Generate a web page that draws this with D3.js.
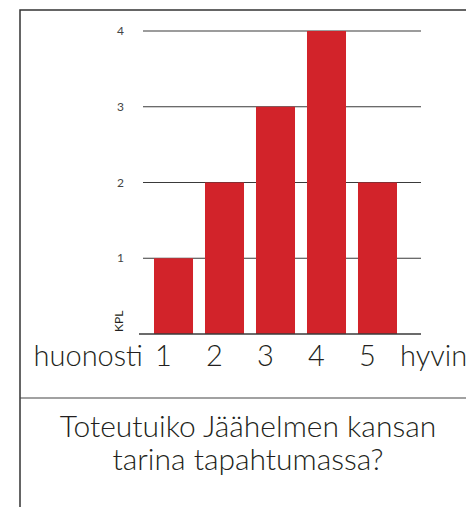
<!DOCTYPE html>
<html>
<head>
<meta charset="utf-8">
<script src="https://d3js.org/d3.v7.min.js"></script>
<style>
  body { margin: 0; background: #fff; }
  text { font-family: Lato, "Open Sans", sans-serif; fill: #231f20; }
  .big { font-weight: 300; }
</style>
</head>
<body>
<div class="container"></div>
<script>
var w = 466;
var h = 507;

var categories = ["1", "2", "3", "4", "5"];
var values = [1, 2, 3, 4, 2];
var yTicks = [1, 2, 3, 4];
var leftLabel = "huonosti";
var rightLabel = "hyvin";
var yLabel = "KPL";
var titleLines = ["Toteutuiko Jäähelmen kansan", "tarina tapahtumassa?"];

var svg = d3.select('.container')
  .append('svg')
  .attr('width', w)
  .attr('height', h);

// frame
svg.append('path')
  .attr('d', 'M20,' + h + ' L20,10 L' + w + ',10')
  .attr('fill', 'none')
  .attr('stroke', '#333')
  .attr('stroke-width', 1.5);
svg.append('line')
  .attr('x1', 20).attr('x2', w)
  .attr('y1', 398).attr('y2', 398)
  .attr('stroke', '#444')
  .attr('stroke-width', 1.2);

var xScale = d3.scaleBand()
  .domain(categories)
  .range([154, 397])
  .paddingInner(0.235)
  .paddingOuter(0);

var yScale = d3.scaleLinear()
  .domain([0, 4])
  .range([334, 31]);

// gridlines
svg.selectAll('.grid')
  .data(yTicks)
  .enter()
  .append('line')
  .attr('class', 'grid')
  .attr('x1', 143).attr('x2', 421)
  .attr('y1', d => yScale(d)).attr('y2', d => yScale(d))
  .attr('stroke', '#3a3a3a')
  .attr('stroke-width', 1.2);

svg.selectAll('.ytick')
  .data(yTicks)
  .enter()
  .append('text')
  .attr('class', 'ytick')
  .attr('x', 124)
  .attr('y', d => yScale(d) + 4)
  .attr('text-anchor', 'end')
  .attr('font-size', 12)
  .style('fill', '#444')
  .text(d => d);

svg.selectAll('.bar')
  .data(values)
  .enter()
  .append('rect')
  .attr('class', 'bar')
  .attr('x', (d, i) => xScale(categories[i]))
  .attr('y', d => yScale(d))
  .attr('width', xScale.bandwidth())
  .attr('height', d => yScale(0) - yScale(d))
  .attr('fill', '#d2232a');

// baseline
svg.append('line')
  .attr('x1', 139).attr('x2', 421)
  .attr('y1', yScale(0)).attr('y2', yScale(0))
  .attr('stroke', '#3a3a3a')
  .attr('stroke-width', 1.5);

svg.append('text')
  .attr('transform', 'translate(123,' + (yScale(0) - 2) + ') rotate(-90)')
  .attr('font-size', 12)
  .text(yLabel);

// x labels
svg.selectAll('.xlab')
  .data(categories)
  .enter()
  .append('text')
  .attr('class', 'xlab big')
  .attr('x', d => xScale(d) + xScale.bandwidth() / 2 - 10)
  .attr('y', 366)
  .attr('text-anchor', 'middle')
  .attr('font-size', 29)
  .text(d => d);

svg.append('text')
  .attr('class', 'big')
  .attr('x', 143)
  .attr('y', 366)
  .attr('text-anchor', 'end')
  .attr('font-size', 29)
  .text(leftLabel);

// cut off at the right edge, as in the original
svg.append('text')
  .attr('class', 'big')
  .attr('x', 400)
  .attr('y', 366)
  .attr('font-size', 29)
  .text(rightLabel);

svg.selectAll('.title')
  .data(titleLines)
  .enter()
  .append('text')
  .attr('class', 'title big')
  .attr('x', 248)
  .attr('y', (d, i) => 437 + i * 33)
  .attr('text-anchor', 'middle')
  .attr('font-size', 30)
  .text(d => d);
</script>
</body>
</html>
